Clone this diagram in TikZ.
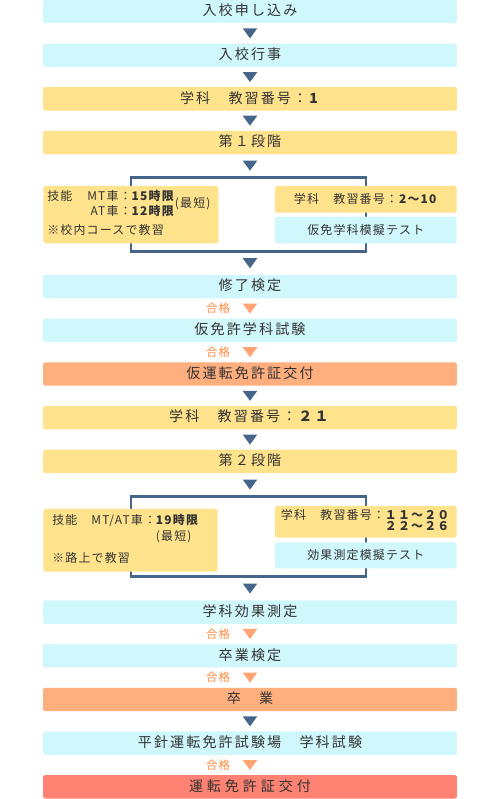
\documentclass[tikz,border=0pt]{standalone}
\usepackage{xcolor}
\usepackage{fontspec}
\usepackage{tikz}
\usetikzlibrary{positioning, calc}
\setmainfont{Noto Sans CJK JP}[LetterSpace=15]
\newfontfamily\smalljp{Noto Sans CJK JP}[LetterSpace=10]
\newfontfamily\widejp{Noto Sans CJK JP}[LetterSpace=28]
\definecolor{stepCyan}{HTML}{D0F7FC}
\definecolor{stepYellow}{HTML}{FFE38C}
\definecolor{stepOrange}{HTML}{FFAE7E}
\definecolor{stepRed}{HTML}{FF8272}
\definecolor{flowBlue}{HTML}{46658A}
\definecolor{passOrange}{HTML}{FFA472}
\definecolor{passText}{HTML}{FF8A3D}
\definecolor{textGray}{HTML}{333333}

\begin{document}
\begin{tikzpicture}[
    x=0.02cm, y=-0.02cm,
    node distance=0.406cm,
    mainbox/.style={rounded corners=1.2pt, inner sep=0pt, outer sep=0pt,
                    minimum width=8.28cm, minimum height=0.468cm,
                    text height=6pt, text depth=1.2pt,
                    text=textGray, font=\fontsize{8pt}{9.6pt}\selectfont},
    cyanbox/.style={mainbox, fill=stepCyan},
    yellowbox/.style={mainbox, fill=stepYellow},
    subbox/.style={rounded corners=1.2pt, inner sep=0pt, outer sep=0pt,
                   minimum width=3.633cm,
                   text=textGray, font=\fontsize{6.8pt}{7.6pt}\smalljp},
    notebox/.style={subbox, fill=stepYellow, align=left},
    phaseframe/.style={draw=flowBlue, line width=1.7pt},
    darr/.style={fill=flowBlue},
    parr/.style={fill=passOrange},
    pass/.style={text=passText, font=\fontsize{6.5pt}{7pt}\smalljp},
]
\useasboundingbox (0,0) rectangle (500,799);

% Main flow
\node[cyanbox] (s1) at (250,11.5) {入校申し込み};
\node[cyanbox, below=of s1] (s2) {入校行事};
\node[yellowbox, below=of s2] (s3) {学科　教習番号：\textbf{1}};
\node[yellowbox, below=of s3] (s4) {第１段階};
\node[cyanbox, below=2.414cm of s4] (s5) {修了検定};
\node[cyanbox, below=of s5] (s6) {仮免許学科試験};
\node[mainbox, fill=stepOrange, below=of s6] (s7) {仮運転免許証交付};
\node[yellowbox, below=of s7] (s8) {学科　教習番号：\textbf{２１}};
\node[yellowbox, below=of s8] (s9) {第２段階};
\node[cyanbox, below=2.546cm of s9] (s10) {学科効果測定};
\node[cyanbox, below=of s10] (s11) {卒業検定};
\node[mainbox, fill=stepOrange, below=of s11] (s12) {卒　業};
\node[cyanbox, below=of s12] (s13) {平針運転免許試験場　学科試験};
\node[mainbox, fill=stepRed, below=of s13] (s14) {\widejp 運転免許証交付};

% Stage frames
\coordinate (f1nw) at (131,177);
\coordinate (f1se) at (366,251.5);
\coordinate (f1t) at (250,177);
\coordinate (f1b) at (250,251.5);
\draw[phaseframe] (f1nw) rectangle (f1se);
\coordinate (f2nw) at (131,496);
\coordinate (f2se) at (366,576.7);
\coordinate (f2t) at (250,496);
\coordinate (f2b) at (250,576.7);
\draw[phaseframe] (f2nw) rectangle (f2se);

% Stage 1
\node[notebox, minimum width=3.5cm, minimum height=1.147cm, inner xsep=0.08cm,
      text width=3.34cm] (k1) at (130.8,214.7)
    {\begin{tabular}{@{}l@{\hspace{8.5pt}}r@{}l@{}l@{}}
     技能 & MT車： & \textbf{15時限} & \raisebox{-3.8pt}[0pt][0pt]{(最短)}\\
          & AT車： & \textbf{12時限} & \\[3.2pt]
     \multicolumn{4}{@{}l@{}}{※校内コースで教習}
     \end{tabular}};
\node[subbox, fill=stepYellow, minimum height=0.533cm] (r1a) at (365.8,199.3)
    {学科　教習番号：\textbf{2～10}};
\node[subbox, fill=stepCyan, minimum height=0.533cm] (r1b) at (365.8,230)
    {仮免学科模擬テスト};

% Stage 2
\node[notebox, minimum width=3.49cm, minimum height=1.253cm, inner xsep=0.18cm,
      text width=3.13cm] (k2) at (130.5,540.3)
    {\begin{tabular}{@{}l@{\hspace{8pt}}l@{}l@{}}
     技能 & MT/AT車： & \textbf{19時限}\\[1.3pt]
          & & (最短)\\[4.3pt]
     \multicolumn{3}{@{}l@{}}{※路上で教習}
     \end{tabular}};
\node[subbox, fill=stepYellow, minimum height=0.633cm] (r2a) at (365.8,521.8)
    {\begin{tabular}{@{}r@{}l@{}}
     学科　教習番号： & \textbf{１１～２０}\\[-1.6pt]
                     & \textbf{２２～２６}
     \end{tabular}};
\node[subbox, fill=stepCyan, minimum height=0.52cm] (r2b) at (365.8,555.3)
    {効果測定模擬テスト};

% Arrows
\foreach \a/\b in {s1.south/s2.north, s2.south/s3.north, s3.south/s4.north,
                   s4.south/f1t, f1b/s5.north, s7.south/s8.north,
                   s8.south/s9.north, s9.south/f2t, f2b/s10.north,
                   s12.south/s13.north}
    \fill[darr] ($(\a)!.5!(\b)$) ++(-7.3,-5) -- ++(14.6,0) -- ++(-7.3,10) -- cycle;

\foreach \a/\b [count=\i] in {s5/s6, s6/s7, s10/s11, s11/s12, s13/s14} {
    \fill[parr] ($(\a.south)!.5!(\b.north)$) ++(-7.3,-5) -- ++(14.6,0) -- ++(-7.3,10) -- cycle;
    \node[pass] (g\i) at ($(\a.south)!.5!(\b.north)+(-32,0)$) {合格};
}
\end{tikzpicture}
\end{document}
